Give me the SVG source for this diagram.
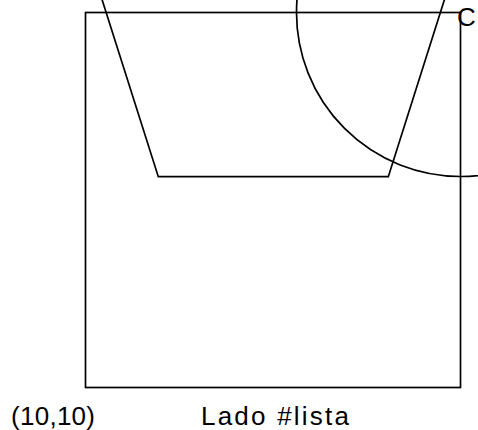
<svg xmlns="http://www.w3.org/2000/svg" width="478" height="430" viewBox="0 0 478 430">
<style>
.s{fill:none;stroke:#000;stroke-width:1.7}
.t{font-family:"Liberation Sans",Arial,sans-serif;font-size:26px;fill:#000}
</style>
<rect width="478" height="430" fill="#fff"/>
<g id="square"><rect class="s" x="85.5" y="12.5" width="375" height="375"/></g>
<g id="trapezoid"><polyline class="s" points="99,-10 158.3,176.7 388.3,176.7 447.5,-10"/></g>
<g id="circle"><circle class="s" cx="460.5" cy="12.5" r="164"/></g>
<g id="labels">
<text class="t" x="457" y="26">C</text>
<text class="t" x="11" y="425" textLength="84" lengthAdjust="spacing">(10,10)</text>
<text class="t" x="201" y="425" textLength="148" lengthAdjust="spacing">Lado #lista</text>
</g>
</svg>
